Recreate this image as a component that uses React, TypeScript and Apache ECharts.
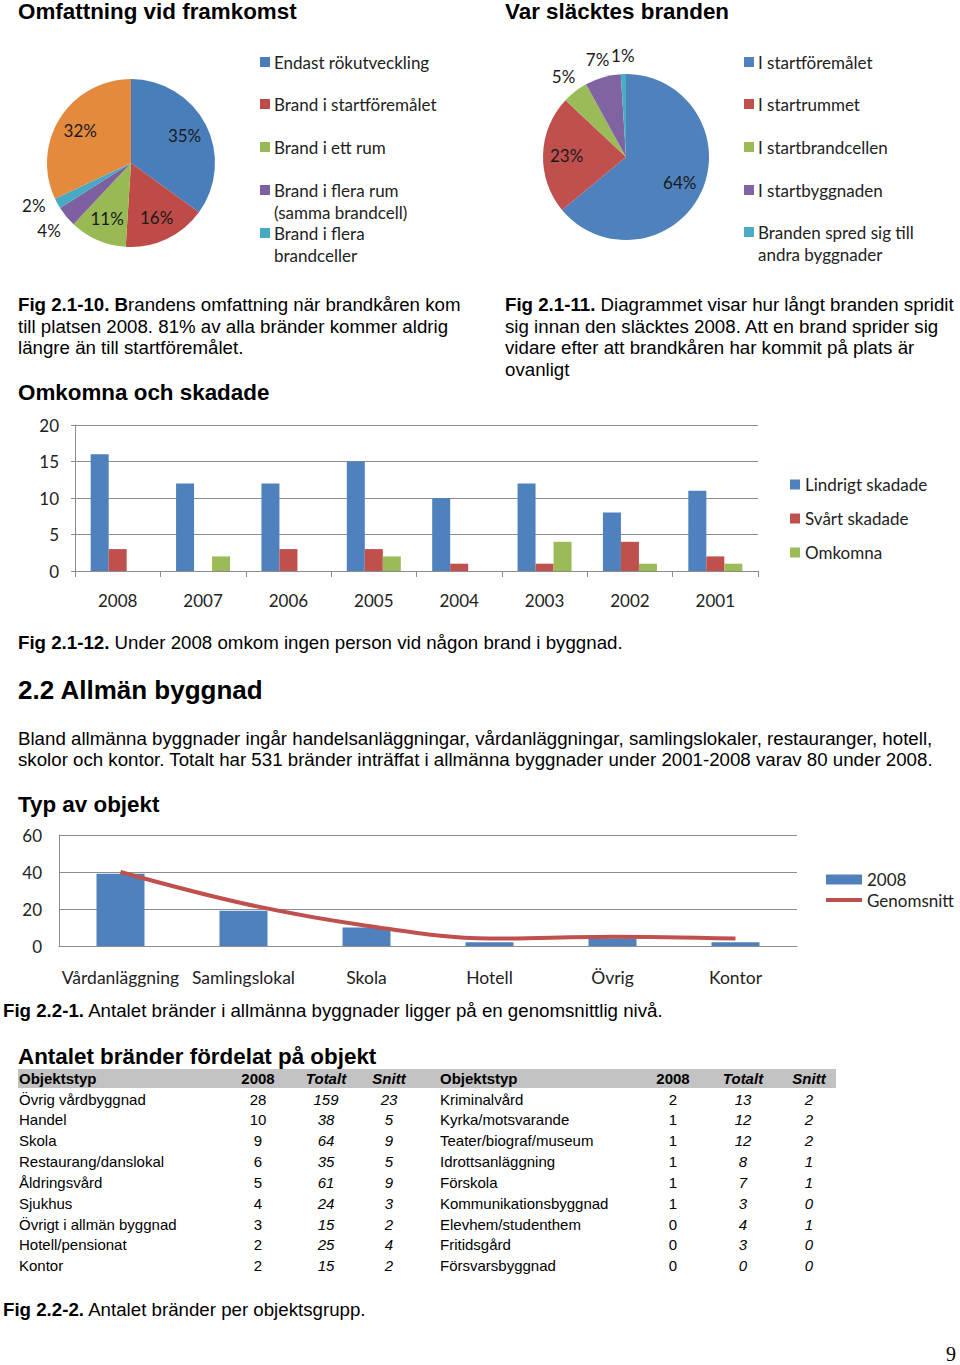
import React, { useEffect, useRef } from 'react';
import * as echarts from 'echarts';

// ---------- data ----------
const pie1Names = ['Endast rökutveckling', 'Brand i startföremålet', 'Brand i ett rum', 'Brand i flera rum\n(samma brandcell)', 'Brand i flera\nbrandceller', 'Övrigt'];
const pie1Values = [35, 16, 11, 4, 2, 32];
const pie1Legend = 5; // the first five slices have legend entries

const pie2Names = ['I startföremålet', 'I startrummet', 'I startbrandcellen', 'I startbyggnaden', 'Branden spred sig till\nandra byggnader'];
const pie2Values = [64, 23, 5, 7, 1];

const injuryYears = ['2008', '2007', '2006', '2005', '2004', '2003', '2002', '2001'];
const lindrigt = [16, 12, 12, 15, 10, 12, 8, 11];
const svart = [3, 0, 3, 3, 1, 1, 4, 2];
const omkomna = [0, 2, 0, 2, 0, 4, 1, 1];
const injurySeries = ['Lindrigt skadade', 'Svårt skadade', 'Omkomna'];

const objectTypes = ['Vårdanläggning', 'Samlingslokal', 'Skola', 'Hotell', 'Övrig', 'Kontor'];
const objects2008 = [39, 19, 10, 2, 4, 2];
const objectsAvg = [40, 23, 11, 4, 5, 4];
const objectSeries = ['2008', 'Genomsnitt'];

const tableHeader = ['Objektstyp', '2008', 'Totalt', 'Snitt'];
const leftNames = ['Övrig vårdbyggnad', 'Handel', 'Skola', 'Restaurang/danslokal', 'Åldringsvård', 'Sjukhus', 'Övrigt i allmän byggnad', 'Hotell/pensionat', 'Kontor'];
const left2008 = [28, 10, 9, 6, 5, 4, 3, 2, 2];
const leftTotalt = [159, 38, 64, 35, 61, 24, 15, 25, 15];
const leftSnitt = [23, 5, 9, 5, 9, 3, 2, 4, 2];
const rightNames = ['Kriminalvård', 'Kyrka/motsvarande', 'Teater/biograf/museum', 'Idrottsanläggning', 'Förskola', 'Kommunikationsbyggnad', 'Elevhem/studenthem', 'Fritidsgård', 'Försvarsbyggnad'];
const right2008 = [2, 1, 1, 1, 1, 1, 0, 0, 0];
const rightTotalt = [13, 12, 12, 8, 7, 3, 4, 3, 0];
const rightSnitt = [2, 2, 2, 1, 1, 0, 1, 0, 0];

// ---------- styles ----------
const ARIAL = '"Liberation Sans", Arial, sans-serif';
const CAL = 'Lato, "Open Sans", sans-serif';
const BODY = 18.7;
const H2 = 22.4;
const pie1Colors = ['#4A7EBB', '#BE4B48', '#98B954', '#7D60A0', '#46AAC5', '#E48A3E'];
const pie2Colors = ['#4F81BD', '#C0504D', '#9BBB59', '#8064A2', '#4BACC6'];
const barColors = ['#4F81BD', '#C0504D', '#9BBB59'];
const GRID_GREY = '#8C8C8C';
// label nudges for crowded outside labels, keyed by slice index
const pie1LabelNudge: Record<number, any> = { 4: { padding: [0, 8, 0, 0], up: true } };
const pie2LabelNudge: Record<number, any> = {};

function txt(x: number, y: number, text: string, o: any = {}) {
  const align = o.align || 'left';
  return {
    type: 'text',
    x,
    y,
    silent: true,
    style: {
      text,
      fill: o.color || '#000',
      fontSize: o.size || BODY,
      fontFamily: o.family || ARIAL,
      fontWeight: o.weight || 'normal',
      fontStyle: o.style || 'normal',
      textAlign: align,
      align,
      textVerticalAlign: 'middle',
      verticalAlign: 'middle',
      rich: o.rich,
    },
  };
}

function boldLead(x: number, y: number, lead: string, rest: string, size = BODY) {
  return txt(x, y, `{b|${lead}}{r|${rest}}`, {
    size,
    rich: {
      b: { fontWeight: 'bold', fontSize: size, fontFamily: ARIAL, fill: '#000', color: '#000' },
      r: { fontWeight: 'normal', fontSize: size, fontFamily: ARIAL, fill: '#000', color: '#000' },
    },
  });
}

function pieLegend(x: number, ys: number[], names: string[], colors: string[], count: number) {
  const els: any[] = [];
  for (let i = 0; i < count; i++) {
    const lines = names[i].split('\n');
    els.push({ type: 'rect', silent: true, shape: { x, y: ys[i] - 5, width: 10, height: 10 }, style: { fill: colors[i] } });
    lines.forEach((l, k) => els.push(txt(x + 14, ys[i] + k * 22.5, l, { size: 17, family: CAL, color: '#222' })));
  }
  return els;
}

function pieSeries(center: number[], r: number, names: string[], values: number[], colors: string[], outerK: number, nudges: Record<number, any>) {
  const labelStyle = { fontSize: 17, fontFamily: CAL, color: '#1a1a1a', lineHeight: 18 };
  const base = {
    type: 'pie',
    center,
    silent: true,
    startAngle: 90,
    clockwise: true,
    avoidLabelOverlap: false,
    labelLayout: { hideOverlap: false },
    labelLine: { show: false },
    emphasis: { disabled: true },
  };
  return [
    {
      ...base,
      radius: r,
      itemStyle: { borderWidth: 0 },
      label: { show: false },
      data: values.map((v, i) => ({ name: names[i], value: v, itemStyle: { color: colors[i] } })),
    },
    {
      ...base,
      radius: r * 1.36,
      itemStyle: { color: 'rgba(0,0,0,0)', borderWidth: 0 },
      label: { position: 'inside', formatter: (p: any) => p.value + '%', ...labelStyle },
      data: values.map((v, i) => ({ name: names[i], value: v, label: { show: v >= 10 } })),
    },
    {
      ...base,
      radius: r * outerK,
      itemStyle: { color: 'rgba(0,0,0,0)', borderWidth: 0 },
      label: {
        position: 'inside',
        formatter: (p: any) => p.value + '%' + (nudges[p.dataIndex] && nudges[p.dataIndex].up ? '\n ' : ''),
        ...labelStyle,
      },
      data: values.map((v, i) => ({
        name: names[i],
        value: v,
        label: nudges[i] && nudges[i].padding ? { show: v < 10, padding: nudges[i].padding } : { show: v < 10 },
      })),
    },
  ];
}

export default function App() {
  const ref = useRef<HTMLDivElement>(null);

  useEffect(() => {
    if (!ref.current) return;
    const chart = echarts.init(ref.current, undefined, { renderer: 'svg' });

    const axisLabel = { fontSize: 17, fontFamily: CAL, color: '#222' };
    const legendText = { fontSize: 17, fontFamily: CAL, color: '#222' };
    const graphics: any[] = [];

    // headings
    graphics.push(txt(18, 11, 'Omfattning vid framkomst', { size: H2, weight: 'bold' }));
    graphics.push(txt(505, 11, 'Var släcktes branden', { size: H2, weight: 'bold' }));

    // pie legends
    graphics.push(...pieLegend(260, [62, 104, 147, 190, 233], pie1Names, pie1Colors, pie1Legend));
    graphics.push(...pieLegend(744, [62, 104, 147, 190, 232], pie2Names, pie2Colors, pie2Names.length));

    // captions for pies
    graphics.push(boldLead(18, 304, 'Fig 2.1-10. B', 'randens omfattning när brandkåren kom'));
    graphics.push(txt(18, 326, 'till platsen 2008. 81% av alla bränder kommer aldrig'));
    graphics.push(txt(18, 347, 'längre än till startföremålet.'));
    graphics.push(boldLead(505, 304, 'Fig 2.1-11.', ' Diagrammet visar hur långt branden spridit'));
    graphics.push(txt(505, 326, 'sig innan den släcktes 2008. Att en brand sprider sig'));
    graphics.push(txt(505, 347, 'vidare efter att brandkåren har kommit på plats är'));
    graphics.push(txt(505, 369, 'ovanligt'));

    graphics.push(txt(18, 392, 'Omkomna och skadade', { size: H2, weight: 'bold' }));
    graphics.push(boldLead(18, 642, 'Fig 2.1-12.', ' Under 2008 omkom ingen person vid någon brand i byggnad.'));

    graphics.push(txt(18, 690, '2.2 Allmän byggnad', { size: 26, weight: 'bold' }));
    graphics.push(txt(18, 738, 'Bland allmänna byggnader ingår handelsanläggningar, vårdanläggningar, samlingslokaler, restauranger, hotell,'));
    graphics.push(txt(18, 759, 'skolor och kontor. Totalt har 531 bränder inträffat i allmänna byggnader under 2001-2008 varav 80 under 2008.'));

    graphics.push(txt(18, 804, 'Typ av objekt', { size: H2, weight: 'bold' }));
    graphics.push(boldLead(3, 1010, 'Fig 2.2-1.', ' Antalet bränder i allmänna byggnader ligger på en genomsnittlig nivå.'));

    // table
    graphics.push(txt(18, 1056, 'Antalet bränder fördelat på objekt', { size: H2, weight: 'bold' }));
    graphics.push({ type: 'rect', silent: true, shape: { x: 18, y: 1069, width: 818, height: 19 }, style: { fill: '#C3C3C3' } });
    const rowY = (i: number) => 1099 + i * 20.85;
    const halves = [
      { nameX: 19, cols: [258, 326, 389], names: leftNames, vals: [left2008, leftTotalt, leftSnitt] },
      { nameX: 440, cols: [673, 743, 809], names: rightNames, vals: [right2008, rightTotalt, rightSnitt] },
    ];
    halves.forEach((h) => {
      graphics.push(txt(h.nameX, 1078, tableHeader[0], { size: 15, weight: 'bold' }));
      h.cols.forEach((cx, c) =>
        graphics.push(txt(cx, 1078, tableHeader[c + 1], { size: 15, weight: 'bold', style: c === 0 ? 'normal' : 'italic', align: 'center' }))
      );
      h.names.forEach((n, i) => {
        graphics.push(txt(h.nameX, rowY(i), n, { size: 15 }));
        h.cols.forEach((cx, c) =>
          graphics.push(txt(cx, rowY(i), String(h.vals[c][i]), { size: 15, style: c === 0 ? 'normal' : 'italic', align: 'center' }))
        );
      });
    });
    graphics.push(boldLead(3, 1309, 'Fig 2.2-2.', ' Antalet bränder per objektsgrupp.'));
    graphics.push(txt(951, 1354, '9', { size: 20, family: '"Liberation Serif", "DejaVu Serif", serif', align: 'center' }));

    const option: any = {
      animation: false,
      backgroundColor: '#fff',
      graphic: { elements: graphics },
      grid: [
        { left: 75, top: 425, width: 683, height: 146, containLabel: false },
        { left: 59, top: 835, width: 738, height: 111, containLabel: false },
      ],
      xAxis: [
        {
          type: 'category',
          gridIndex: 0,
          data: injuryYears,
          axisLine: { show: true, lineStyle: { color: GRID_GREY } },
          axisTick: { show: true, alignWithLabel: false, length: 6, lineStyle: { color: GRID_GREY } },
          axisLabel: { ...axisLabel, margin: 21, interval: 0 },
        },
        {
          type: 'category',
          gridIndex: 1,
          data: objectTypes,
          axisLine: { show: true, lineStyle: { color: GRID_GREY } },
          axisTick: { show: false },
          axisLabel: { ...axisLabel, fontSize: 17.5, margin: 22, interval: 0 },
        },
      ],
      yAxis: [
        {
          type: 'value',
          gridIndex: 0,
          min: 0,
          max: 20,
          interval: 5,
          axisLine: { show: true, lineStyle: { color: GRID_GREY } },
          axisTick: { show: true, length: 4, lineStyle: { color: GRID_GREY } },
          splitLine: { show: true, lineStyle: { color: GRID_GREY, width: 1 } },
          axisLabel: { ...axisLabel, margin: 16 },
        },
        {
          type: 'value',
          gridIndex: 1,
          min: 0,
          max: 60,
          interval: 20,
          axisLine: { show: true, lineStyle: { color: GRID_GREY } },
          axisTick: { show: false },
          splitLine: { show: true, lineStyle: { color: GRID_GREY, width: 1 } },
          axisLabel: { ...axisLabel, margin: 17 },
        },
      ],
      legend: [
        {
          data: injurySeries.map((n) => ({ name: n, icon: 'rect' })),
          orient: 'vertical',
          left: 790,
          top: 476,
          padding: 0,
          itemWidth: 10,
          itemHeight: 10,
          itemGap: 17,
          selectedMode: false,
          textStyle: legendText,
        },
        {
          data: [{ name: objectSeries[0], icon: 'rect' }],
          orient: 'vertical',
          left: 826,
          top: 871,
          padding: 0,
          itemWidth: 36,
          itemHeight: 10,
          selectedMode: false,
          textStyle: legendText,
        },
        {
          data: [{ name: objectSeries[1], icon: 'rect' }],
          orient: 'vertical',
          left: 826,
          top: 891.5,
          padding: 0,
          itemWidth: 36,
          itemHeight: 4,
          selectedMode: false,
          textStyle: legendText,
        },
      ],
      series: [
        ...pieSeries([131, 163], 84, pie1Names, pie1Values, pie1Colors, 2.46, pie1LabelNudge),
        ...pieSeries([626, 157], 83, pie2Names, pie2Values, pie2Colors, 2.38, pie2LabelNudge),
        ...[lindrigt, svart, omkomna].map((d, i) => ({
          type: 'bar',
          name: injurySeries[i],
          xAxisIndex: 0,
          yAxisIndex: 0,
          data: d,
          barWidth: 18,
          barGap: '0%',
          itemStyle: { color: barColors[i] },
          silent: true,
        })),
        {
          type: 'bar',
          name: objectSeries[0],
          xAxisIndex: 1,
          yAxisIndex: 1,
          data: objects2008,
          barWidth: 48,
          itemStyle: { color: barColors[0] },
          silent: true,
        },
        {
          type: 'line',
          name: objectSeries[1],
          xAxisIndex: 1,
          yAxisIndex: 1,
          data: objectsAvg,
          smooth: 0.35,
          symbol: 'none',
          lineStyle: { color: '#C0504D', width: 4 },
          itemStyle: { color: '#C0504D' },
          silent: true,
          z: 5,
        },
      ],
    };

    chart.setOption(option);
    return () => chart.dispose();
  }, []);

  return <div ref={ref} style={{ position: 'absolute', left: 0, top: 0, width: 960, height: 1365, background: '#fff' }} />;
}
